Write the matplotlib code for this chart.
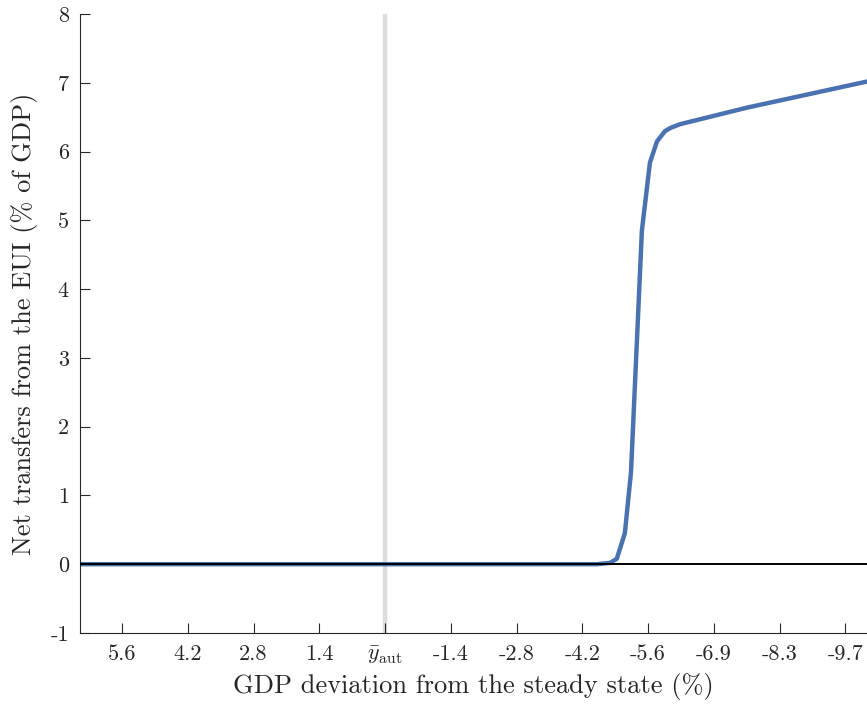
import matplotlib
matplotlib.use("Agg")
import matplotlib.pyplot as plt

plt.rcParams['font.family'] = 'serif'
plt.rcParams['font.serif'] = ['cmr10']
plt.rcParams['mathtext.fontset'] = 'cm'
plt.rcParams['axes.unicode_minus'] = False
plt.rcParams['axes.formatter.use_mathtext'] = True

# negative of the GDP deviation (%), so the axis runs from booms to recessions
gap = [-6.45, 3.70, 4.48, 4.62, 4.76, 4.90, 5.07, 5.20, 5.43, 5.60, 5.75,
       5.92, 6.05, 6.24, 7.65, 10.19]
transfers = [0.0, 0.0, 0.0, 0.01, 0.02, 0.08, 0.45, 1.34, 4.85, 5.84, 6.15,
             6.30, 6.35, 6.40, 6.64, 7.02]

tick_pos = [-5.56, -4.17, -2.78, -1.39, 0.0, 1.39, 2.78, 4.17, 5.56, 6.95, 8.34, 9.73]
tick_labels = ['5.6', '4.2', '2.8', '1.4', r'$\bar{y}_{\mathrm{aut}}$', '-1.4', '-2.8',
               '-4.2', '-5.6', '-6.9', '-8.3', '-9.7']
y_aut = 0.0

fig = plt.figure(figsize=(8.67, 7.08), dpi=100)
ax = fig.add_axes([0.0923, 0.106, 0.9077, 0.874])

ax.axvline(y_aut, color='#dcdcdc', lw=3.2, zorder=1)
ax.plot(gap, transfers, color='#4a72b0', lw=3.2, zorder=2)
ax.axhline(0, color='black', lw=1.4, zorder=3)

ax.set_xlim(-6.45, 10.19)
ax.set_ylim(-1, 8)
ax.set_xticks(tick_pos)
ax.set_xticklabels(tick_labels)
ax.set_yticks(range(-1, 9))
ax.set_yticklabels([str(v) for v in range(-1, 9)])

for s in ['top', 'right']:
    ax.spines[s].set_visible(False)
for s in ['left', 'bottom']:
    ax.spines[s].set_color('#262626')
    ax.spines[s].set_linewidth(0.8)
ax.tick_params(direction='in', length=7, width=0.8, color='#262626',
               labelsize=16, labelcolor='#262626', pad=8)

ax.set_xlabel('GDP deviation from the steady state (%)', fontsize=19, color='#262626', labelpad=5)
ax.set_ylabel('Net transfers from the EUI (% of GDP)', fontsize=19, color='#262626', labelpad=9)

fig.savefig('out.png', dpi=100)
